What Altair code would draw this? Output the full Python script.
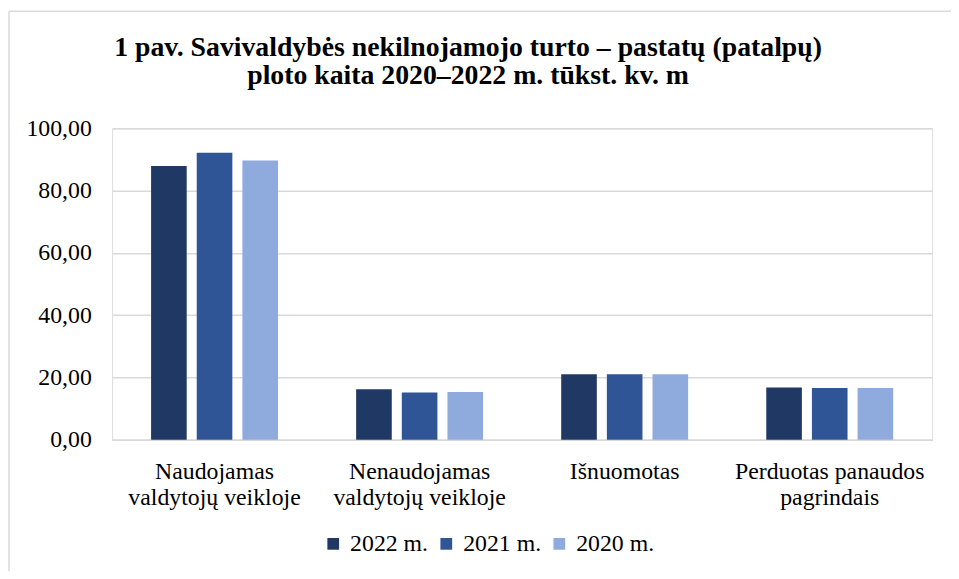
import altair as alt
import pandas as pd

categories = ["Naudojamas valdytojų veikloje", "Nenaudojamas valdytojų veikloje",
              "Išnuomotas", "Perduotas panaudos pagrindais"]
label_lines = ["Naudojamas|valdytojų veikloje", "Nenaudojamas|valdytojų veikloje",
               "Išnuomotas", "Perduotas panaudos|pagrindais"]
years = ["2022 m.", "2021 m.", "2020 m."]
v2022 = [87.9, 16.2, 21.0, 16.8]
v2021 = [92.2, 15.2, 21.0, 16.6]
v2020 = [89.7, 15.3, 21.0, 16.6]
colors = ["#203864", "#2F5597", "#8FAADC"]
y_ticks = [0, 20, 40, 60, 80, 100]
title_text = "1 pav. Savivaldybės nekilnojamojo turto – pastatų (patalpų)|ploto kaita 2020–2022 m. tūkst. kv. m"

rows = []
for yr, vals in zip(years, [v2022, v2021, v2020]):
    for c, lab, v in zip(categories, label_lines, vals):
        rows.append({"kategorija": lab, "metai": yr, "plotas": v})
df = pd.DataFrame(rows)

FONT = "Liberation Serif"
GRID = "#d9d9d9"

bars = alt.Chart(df).mark_bar().encode(
    x=alt.X("kategorija:N", sort=label_lines,
            scale=alt.Scale(paddingInner=0.381, paddingOuter=0.19),
            axis=alt.Axis(title=None, labelAngle=0, ticks=False, domain=True,
                          domainColor=GRID, domainWidth=1.5,
                          labelFont=FONT, labelFontSize=24, labelColor="#000000",
                          labelPadding=20, labelLineHeight=26, labelLimit=0,
                          labelExpr="split(datum.value, '|')")),
    xOffset=alt.XOffset("metai:N", sort=years,
                        scale=alt.Scale(paddingInner=0.22, paddingOuter=0)),
    y=alt.Y("plotas:Q", scale=alt.Scale(domain=[0, 100], nice=False),
            axis=alt.Axis(title=None, values=y_ticks, ticks=False, domain=False,
                          gridColor=GRID, gridWidth=1.5,
                          labelFont=FONT, labelFontSize=24, labelColor="#000000",
                          labelPadding=21,
                          labelExpr="replace(format(datum.value, '.2f'), '.', ',')")),
    color=alt.Color("metai:N", sort=years,
                    scale=alt.Scale(domain=years, range=colors),
                    legend=alt.Legend(title=None, orient="none", direction="horizontal",
                                      legendX=211, legendY=407,
                                      symbolType="square", symbolSize=140,
                                      symbolStrokeWidth=0,
                                      labelFont=FONT, labelFontSize=24,
                                      labelColor="#000000", columnPadding=6,
                                      labelOffset=5)),
)

frame_left = alt.Chart(pd.DataFrame({"a": [0]})).mark_rule(
    color=GRID, strokeWidth=1.5).encode(
    x=alt.value(-104), y=alt.value(-118), y2=alt.value(460))
frame_top = alt.Chart(pd.DataFrame({"a": [0]})).mark_rule(
    color=GRID, strokeWidth=1.5).encode(
    x=alt.value(-104), x2=alt.value(900), y=alt.value(-118))

title = alt.Chart(pd.DataFrame({"t": [title_text]})).mark_text(
    font=FONT, fontSize=28, fontWeight="bold", color="#000000",
    align="center", baseline="alphabetic", lineBreak="|", lineHeight=28
).encode(x=alt.value(359), y=alt.value(-73), text="t:N")

chart = alt.layer(frame_left, frame_top, title, bars).properties(
    width=827, height=314,
    padding={"left": 105, "top": 119, "right": 19, "bottom": 130},
    autosize=alt.AutoSizeParams(type="none"),
).configure_view(stroke=None).configure(background="white")

chart.save("out.html", embed_options={"renderer": "svg", "actions": False})
